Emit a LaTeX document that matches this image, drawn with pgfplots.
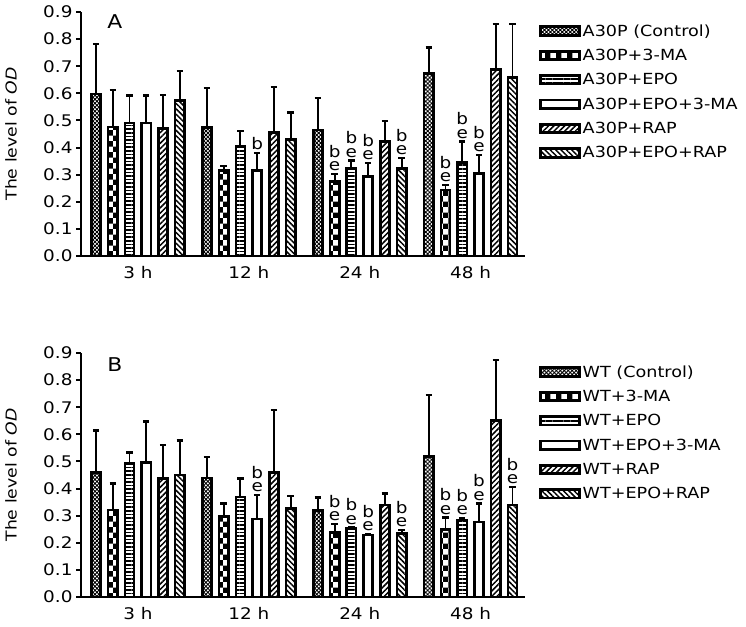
\documentclass[border=0pt]{standalone}
\usepackage{pgfplots}
\pgfplotsset{compat=1.18}
\usepackage{fontspec}
\setmainfont{DejaVu Sans}[FakeStretch=1.15]
\usetikzlibrary{patterns,patterns.meta}

\pgfplotsset{
 panel/.style={
   scale only axis, width=444pt, height=244pt,
   xmin=-0.513, xmax=3.49, ymin=0, ymax=0.9,
   axis x line*=bottom, axis y line*=left,
   axis line style={line width=2.6pt, -},
   ytick={0,0.1,0.2,0.3,0.4,0.5,0.6,0.7,0.8,0.9},
   yticklabel style={/pgf/number format/fixed, /pgf/number format/fixed zerofill, /pgf/number format/precision=1},
   /pgf/number format/assume math mode=true,
   xtick={0,1,2,3}, xticklabels={3 h,12 h,24 h,48 h},
   x tick style={draw=none},
   y tick style={line width=2pt, black},
   tick align=outside, major tick length=5pt,
   tick label style={font=\fontsize{16}{18}\selectfont},
   x tick label style={yshift=-4pt, inner sep=1pt},
   ylabel={The level of \textit{OD}},
   every axis y label/.style={at={(rel axis cs:0,0.5)}, xshift=-70pt, rotate=90, anchor=center, font=\fontsize{15}{18}\selectfont},
   legend style={at={(rel axis cs:1.032,0.958)}, anchor=north west, draw=none, fill=none,
     font=\fontsize{15.3}{18}\selectfont, row sep=7.5pt, inner sep=0pt, nodes={inner sep=2pt}},
   legend cell align=left,
   clip=false,
 },
 bars/.style={ybar, bar width=0.083, bar shift=0pt, draw=black, line width=2.6pt, #1,
   error bars/.cd, y dir=plus, y explicit,
   error bar style={line width=1.9pt, black, solid},
   error mark options={line width=2.2pt, mark size=3.2pt, black, rotate=90},
   /pgfplots/legend image code/.code={\draw[##1, line width=2.8pt] (0pt,-4.2pt) rectangle (38.5pt,4.2pt);}},
}
\tikzset{ann/.style={anchor=south, inner sep=0pt, yshift=3pt, font=\fontsize{16}{16}\selectfont}}
\newcommand{\be}{\shortstack{b\\[1pt]e}}
\begin{document}
\begin{tikzpicture}
\useasboundingbox (0pt,0pt) rectangle (746pt,626pt);
% ---------------- Panel A ----------------
\begin{axis}[panel, at={(81pt,370pt)}, anchor=south west]
\addplot[bars={pattern={Hatch[angle=45,distance=2.8pt,line width=0.9pt]}}] coordinates {
 (-0.3775,0.598) +- (0,0.183) (0.6225,0.474) +- (0,0.147) (1.6225,0.465) +- (0,0.117) (2.6225,0.674) +- (0,0.095)};
\addplot[bars={pattern=checkerboard}] coordinates {
 (-0.2265,0.476) +- (0,0.137) (0.7735,0.315) +- (0,0.018) (1.7735,0.274) +- (0,0.029) (2.7735,0.244) +- (0,0.018)};
\addplot[bars={pattern={Lines[angle=0,distance=3.6pt,line width=1.5pt]}}] coordinates {
 (-0.0755,0.490) +- (0,0.102) (0.9245,0.403) +- (0,0.058) (1.9245,0.323) +- (0,0.029) (2.9245,0.344) +- (0,0.078)};
\addplot[bars={fill=white}] coordinates {
 (0.0755,0.490) +- (0,0.102) (1.0755,0.315) +- (0,0.064) (2.0755,0.293) +- (0,0.049) (3.0755,0.305) +- (0,0.068)};
\addplot[bars={pattern={Lines[angle=45,distance=3.8pt,line width=1.5pt]}}] coordinates {
 (0.2265,0.470) +- (0,0.125) (1.2265,0.456) +- (0,0.168) (2.2265,0.423) +- (0,0.075) (3.2265,0.689) +- (0,0.166)};
\addplot[bars={pattern={Lines[angle=-45,distance=3.8pt,line width=1.5pt]}}] coordinates {
 (0.3775,0.573) +- (0,0.110) (1.3775,0.430) +- (0,0.099) (2.3775,0.323) +- (0,0.039) (3.3775,0.659) +- (0,0.196)};
\legend{A30P (Control),A30P+3-MA,A30P+EPO,A30P+EPO+3-MA,A30P+RAP,A30P+EPO+RAP}
\node[font=\fontsize{19}{22}\selectfont] at (axis cs:-0.207,0.863) {A};
\node[ann] at (axis cs:1.0755,0.379) {b};
\node[ann] at (axis cs:1.7735,0.303) {\be};
\node[ann] at (axis cs:1.9245,0.352) {\be};
\node[ann] at (axis cs:2.0755,0.342) {\be};
\node[ann] at (axis cs:2.3775,0.362) {\be};
\node[ann] at (axis cs:2.7735,0.262) {\be};
\node[ann] at (axis cs:2.9245,0.422) {\be};
\node[ann] at (axis cs:3.0755,0.373) {\be};
\end{axis}
% ---------------- Panel B ----------------
\begin{axis}[panel, at={(81pt,29pt)}, anchor=south west]
\addplot[bars={pattern={Hatch[angle=45,distance=2.8pt,line width=0.9pt]}}] coordinates {
 (-0.3775,0.459) +- (0,0.155) (0.6225,0.439) +- (0,0.078) (1.6225,0.318) +- (0,0.049) (2.6225,0.518) +- (0,0.228)};
\addplot[bars={pattern=checkerboard}] coordinates {
 (-0.2265,0.321) +- (0,0.098) (0.7735,0.298) +- (0,0.047) (1.7735,0.238) +- (0,0.030) (2.7735,0.249) +- (0,0.044)};
\addplot[bars={pattern={Lines[angle=0,distance=3.6pt,line width=1.5pt]}}] coordinates {
 (-0.0755,0.493) +- (0,0.040) (0.9245,0.369) +- (0,0.068) (1.9245,0.252) +- (0,0.004) (2.9245,0.284) +- (0,0.006)};
\addplot[bars={fill=white}] coordinates {
 (0.0755,0.497) +- (0,0.150) (1.0755,0.287) +- (0,0.089) (2.0755,0.228) +- (0,0.004) (3.0755,0.277) +- (0,0.068)};
\addplot[bars={pattern={Lines[angle=45,distance=3.8pt,line width=1.5pt]}}] coordinates {
 (0.2265,0.437) +- (0,0.124) (1.2265,0.459) +- (0,0.231) (2.2265,0.339) +- (0,0.043) (3.2265,0.650) +- (0,0.225)};
\addplot[bars={pattern={Lines[angle=-45,distance=3.8pt,line width=1.5pt]}}] coordinates {
 (0.3775,0.450) +- (0,0.127) (1.3775,0.327) +- (0,0.045) (2.3775,0.234) +- (0,0.013) (3.3775,0.339) +- (0,0.068)};
\legend{WT (Control),WT+3-MA,WT+EPO,WT+EPO+3-MA,WT+RAP,WT+EPO+RAP}
\node[font=\fontsize{19}{22}\selectfont] at (axis cs:-0.207,0.856) {B};
\node[ann] at (axis cs:1.0755,0.376) {\be};
\node[ann] at (axis cs:1.7735,0.268) {\be};
\node[ann] at (axis cs:1.9245,0.256) {\be};
\node[ann] at (axis cs:2.0755,0.232) {\be};
\node[ann] at (axis cs:2.3775,0.247) {\be};
\node[ann] at (axis cs:2.7735,0.293) {\be};
\node[ann] at (axis cs:2.9245,0.290) {\be};
\node[ann] at (axis cs:3.0755,0.345) {\be};
\node[ann] at (axis cs:3.3775,0.407) {\be};
\end{axis}
\end{tikzpicture}
\end{document}
